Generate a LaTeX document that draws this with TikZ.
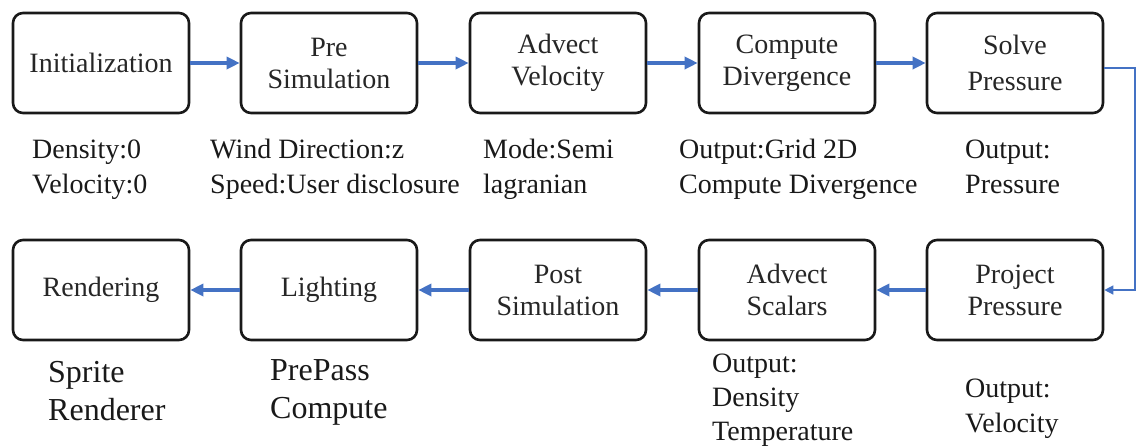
\documentclass[tikz,border=0pt]{standalone}
\usepackage{fontspec}
\setmainfont{Liberation Serif}
\usepackage{tikz}
\usetikzlibrary{arrows.meta, positioning, calc}
\usepackage{xcolor}
\definecolor{flowblue}{RGB}{68,114,196}

\begin{document}
\begin{tikzpicture}[x=1pt, y=-1pt,
        stage/.style={draw=black!90, line width=2.6pt, rounded corners=10pt, minimum width=176pt, minimum height=100pt, align=center, text=black!85, font=\fontsize{28}{32}\selectfont},
        note/.style={anchor=base west, align=left, inner sep=0pt, text=black!90, font=\fontsize{28}{35}\selectfont},
        bignote/.style={note, font=\fontsize{32}{38}\selectfont},
        flow/.style={-{Triangle[length=13pt, width=12pt]}, line width=3.6pt, flowblue},
        thinflow/.style={-{Triangle[length=9pt, width=9pt]}, line width=1.3pt, flowblue}]
    \useasboundingbox (0,0) rectangle (1137,445);

    % Riga superiore
    \node[stage] (init)   at (101,63)  {Initialization};
    \node[stage] (presim) at (329,63)  {Pre\\Simulation};
    \node[stage] (advvel) at (558,63)  {Advect\\Velocity};
    \node[stage] (div)    at (787,63)  {Compute\\Divergence};
    \node[stage, font=\fontsize{28}{36}\selectfont] (solve) at (1015,63) {Solve\\Pressure};

    % Riga inferiore
    \node[stage] (render)  at (101,290) {Rendering};
    \node[stage] (light)   at (329,290) {Lighting};
    \node[stage] (postsim) at (558,290) {Post\\Simulation};
    \node[stage] (advsca)  at (787,290) {Advect\\Scalars};
    \node[stage] (project) at (1015,290) {Project\\Pressure};

    % Frecce
    \draw[flow] (init) -- (presim);
    \draw[flow] (presim) -- (advvel);
    \draw[flow] (advvel) -- (div);
    \draw[flow] (div) -- (solve);
    \draw[flow] (project) -- (advsca);
    \draw[flow] (advsca) -- (postsim);
    \draw[flow] (postsim) -- (light);
    \draw[flow] (light) -- (render);

    % Collegamento laterale
    \coordinate (bend) at (1135,68);
    \draw[thinflow] (solve.east |- bend) -- (bend) |- (project.east);

    % Parametri (ancorati all'ultima riga)
    \node[note] (initnote)  at (32,193)  {Density:0\\Velocity:0};
    \node[note] (presnote)  at (210,193) {Wind Direction:z\\Speed:User disclosure};
    \node[note] (velnote)   at (483,193) {Mode:Semi\\lagranian};
    \node[note] (divnote)   at (679,193) {Output:Grid 2D\\Compute Divergence};
    \node[note] (solvenote) at (965,193) {Output:\\Pressure};
    \node[bignote] (rendnote)  at (48,420)  {Sprite\\Renderer};
    \node[bignote] (lightnote) at (270,418) {PrePass\\Compute};
    \node[note, font=\fontsize{28}{34}\selectfont] (scanote) at (712,440) {Output:\\Density\\Temperature};
    \node[note] (projnote)  at (965,432) {Output:\\Velocity};
\end{tikzpicture}
\end{document}
